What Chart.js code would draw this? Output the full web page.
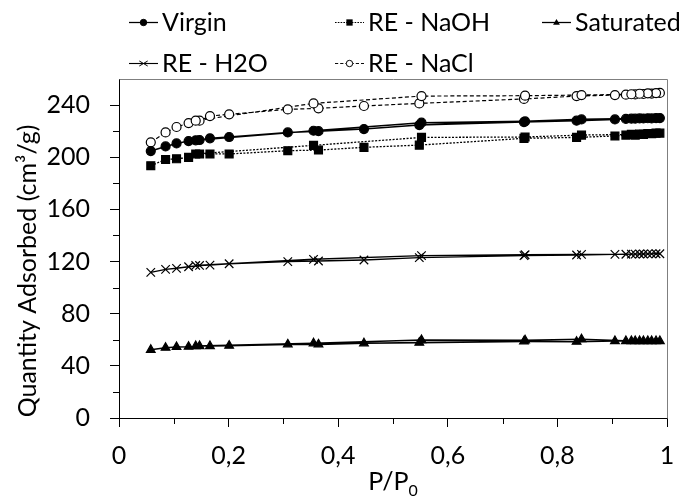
<!DOCTYPE html>
<html><head><meta charset="utf-8">
<script src="https://cdn.jsdelivr.net/npm/chart.js@4/dist/chart.umd.min.js"></script>
<style>html,body{margin:0;padding:0;background:#fff;}#wrap{position:relative;width:689px;height:499px;}</style>
</head><body><div id="wrap"><canvas id="c" width="689" height="499" style="width:689px;height:499px"></canvas></div>
<script>
// ---- data ----
const seriesNames = ['Virgin', 'RE - NaOH', 'Saturated', 'RE - H2O', 'RE - NaCl'];
const pAds = [0.058, 0.085, 0.105, 0.127, 0.147, 0.166, 0.201, 0.308, 0.364, 0.447, 0.548, 0.739, 0.835, 0.905, 0.925, 0.942, 0.957, 0.972, 0.987];
const pDes = [0.980, 0.965, 0.950, 0.935, 0.844, 0.741, 0.552, 0.355, 0.140];

const virginAds = [204.7, 208.3, 210.6, 212.4, 213.2, 214.5, 215.5, 219.0, 220.0, 221.6, 224.7, 227.0, 228.0, 229.0, 229.4, 229.6, 229.7, 229.8, 230.0];
const virginDes = [230.0, 229.9, 229.8, 229.6, 229.0, 227.5, 226.5, 220.3, 213.0];

const naohAds = [193.5, 198.3, 198.8, 199.9, 202.5, 202.5, 202.5, 205.0, 205.5, 207.6, 209.3, 214.5, 215.2, 216.3, 217.0, 217.0, 217.5, 218.0, 218.5];
const naohDes = [218.5, 218.2, 217.8, 217.5, 217.0, 215.5, 215.2, 209.1, 202.5];

const satAds = [52.3, 53.9, 54.5, 54.7, 55.2, 55.2, 55.5, 56.5, 56.5, 57.3, 57.8, 58.8, 58.5, 59.0, 59.0, 59.0, 59.0, 59.0, 59.0];
const satDes = [59.0, 59.0, 59.0, 59.0, 60.4, 59.6, 59.8, 57.3, 55.2];

const h2oAds = [111.7, 114.0, 114.8, 116.0, 117.0, 117.3, 118.3, 119.9, 120.4, 121.2, 123.0, 124.5, 125.0, 125.5, 125.6, 125.7, 125.8, 125.9, 126.0];
const h2oDes = [126.0, 125.9, 125.8, 125.7, 125.5, 125.2, 124.5, 121.7, 117.0];

const naclAds = [211.4, 219.0, 223.2, 226.2, 228.0, 231.6, 232.9, 236.7, 237.5, 239.3, 241.3, 244.7, 246.9, 247.7, 248.0, 248.2, 248.5, 248.8, 249.3];
const naclDes = [249.2, 249.0, 248.7, 248.3, 247.7, 247.2, 246.9, 241.3, 228.0];

const xTickValues = [0, 0.2, 0.4, 0.6, 0.8, 1];
const xTickLabels = ['0', '0,2', '0,4', '0,6', '0,8', '1'];
const yTickLabels = ['0', '40', '80', '120', '160', '200', '240'];

function isotherm(ads, des) {
  return pAds.map((p, i) => ({x: p, y: ads[i]})).concat(pDes.map((p, i) => ({x: p, y: des[i]})));
}

const FONT = 'Lato, "Open Sans", sans-serif';
Chart.defaults.font.family = FONT;

const styles = [
  {pointStyle: 'circle', radius: 4.5, fill: '#000', dash: [], lw: 1.6, lr: 3.2},
  {pointStyle: 'rect', radius: 5.6, fill: '#000', dash: [2, 1.5], lw: 1.3, lr: 4.2},
  {pointStyle: 'triangle', radius: 5, fill: '#000', dash: [], lw: 1.6, lr: 3.6},
  {pointStyle: 'crossRot', radius: 6, fill: '#000', dash: [], lw: 1.4, lr: 4.2},
  {pointStyle: 'circle', radius: 4.5, fill: '#fff', dash: [4, 2.5], lw: 1.2, lr: 3.2}
];
const dataSets = [
  isotherm(virginAds, virginDes),
  isotherm(naohAds, naohDes),
  isotherm(satAds, satDes),
  isotherm(h2oAds, h2oDes),
  isotherm(naclAds, naclDes)
];

const datasets = seriesNames.map((name, i) => ({
  label: name,
  data: dataSets[i],
  showLine: true,
  borderColor: '#000',
  borderWidth: styles[i].lw,
  borderDash: styles[i].dash,
  pointStyle: styles[i].pointStyle,
  pointRadius: styles[i].radius,
  pointBackgroundColor: styles[i].fill,
  pointBorderColor: '#000',
  pointBorderWidth: 1.2,
  tension: 0
}));

function drawMarker(ctx, style, x, y, r, fill) {
  ctx.save();
  ctx.fillStyle = fill; ctx.strokeStyle = '#000'; ctx.lineWidth = 1; ctx.setLineDash([]);
  ctx.beginPath();
  if (style === 'circle') { ctx.arc(x, y, r, 0, Math.PI * 2); ctx.fill(); ctx.stroke(); }
  else if (style === 'rect') { ctx.rect(x - r * 0.75, y - r * 0.75, r * 1.5, r * 1.5); ctx.fill(); }
  else if (style === 'triangle') { ctx.moveTo(x, y - r); ctx.lineTo(x + r * 0.95, y + r * 0.6); ctx.lineTo(x - r * 0.95, y + r * 0.6); ctx.closePath(); ctx.fill(); }
  else if (style === 'crossRot') { ctx.moveTo(x - r, y - r * 0.6); ctx.lineTo(x + r, y + r * 0.6); ctx.moveTo(x - r, y + r * 0.6); ctx.lineTo(x + r, y - r * 0.6); ctx.stroke(); }
  ctx.restore();
}

const decor = {
  id: 'decor',
  afterDraw(chart) {
    const ctx = chart.ctx, a = chart.chartArea;
    const xs = chart.scales.x, ys = chart.scales.y;
    ctx.save();
    // top / right plot border
    ctx.strokeStyle = '#7f7f7f'; ctx.lineWidth = 1;
    ctx.beginPath();
    ctx.moveTo(Math.round(a.left) + 0.5, Math.round(a.top) + 0.5);
    ctx.lineTo(Math.round(a.right) + 0.5, Math.round(a.top) + 0.5);
    ctx.lineTo(Math.round(a.right) + 0.5, Math.round(a.bottom) + 0.5);
    ctx.stroke();
    // minor ticks
    ctx.strokeStyle = '#000';
    ctx.beginPath();
    for (let v = 20; v < 260; v += 40) {
      const py = Math.round(ys.getPixelForValue(v)) + 0.5;
      ctx.moveTo(a.left - 6, py); ctx.lineTo(a.left, py);
    }
    for (let k = 1; k < 10; k += 2) {
      const px = Math.round(xs.getPixelForValue(k / 10)) + 0.5;
      ctx.moveTo(px, a.bottom); ctx.lineTo(px, a.bottom + 6);
    }
    ctx.stroke();
    // axis titles
    ctx.fillStyle = '#000';
    ctx.font = '25px ' + FONT;
    ctx.textAlign = 'center'; ctx.textBaseline = 'middle';
    ctx.save();
    ctx.translate(28, 271); ctx.rotate(-Math.PI / 2);
    ctx.fillText('Quantity Adsorbed (cm\u00B3/g)', 0, 0);
    ctx.restore();
    // P/P0
    const cx = (a.left + a.right) / 2;
    ctx.textAlign = 'left'; ctx.textBaseline = 'alphabetic';
    const main = 'P/P';
    ctx.font = '25px ' + FONT;
    const w1 = ctx.measureText(main).width;
    ctx.font = '16px ' + FONT;
    const w2 = ctx.measureText('0').width;
    const x0 = cx - (w1 + w2) / 2;
    ctx.font = '25px ' + FONT;
    ctx.fillText(main, x0, 490);
    ctx.font = '16px ' + FONT;
    ctx.fillText('0', x0 + w1, 496);
    // legend
    const cols = [129, 335, 542], rows = [22, 63];
    chart.data.datasets.forEach((ds, i) => {
      const col = cols[i % 3], row = rows[Math.floor(i / 3)];
      const st = styles[i];
      ctx.save();
      ctx.strokeStyle = '#000'; ctx.lineWidth = st.lw * 0.8;
      ctx.setLineDash(st.dash.map(d => d * 0.8));
      ctx.beginPath(); ctx.moveTo(col, row + 0.5); ctx.lineTo(col + 29, row + 0.5); ctx.stroke();
      ctx.restore();
      drawMarker(ctx, st.pointStyle, col + 14.5, row + 0.5, st.lr, st.fill);
      ctx.fillStyle = '#000';
      ctx.font = '25px ' + FONT;
      ctx.textAlign = 'left'; ctx.textBaseline = 'middle';
      ctx.fillText(ds.label, col + 33, row + 1);
    });
    ctx.restore();
  }
};

new Chart(document.getElementById('c'), {
  type: 'scatter',
  data: {datasets},
  plugins: [decor],
  options: {
    responsive: false,
    animation: false,
    devicePixelRatio: 1,
    layout: {padding: {top: 79, right: 22, left: 0, bottom: 0}},
    plugins: {legend: {display: false}, tooltip: {enabled: false}},
    scales: {
      x: {
        type: 'linear', min: 0, max: 1,
        afterFit(s) { s.height = 81; },
        afterBuildTicks(s) { s.ticks = xTickValues.map(v => ({value: v})); },
        ticks: {
          includeBounds: false, autoSkip: false, maxRotation: 0,
          color: '#000', font: {size: 25}, padding: 14,
          callback: (v) => { const i = xTickValues.findIndex(t => Math.abs(t - v) < 1e-6); return i >= 0 ? xTickLabels[i] : ''; }
        },
        grid: {drawOnChartArea: false, drawTicks: true, tickLength: 9, color: '#000'},
        border: {display: true, color: '#000', width: 1}
      },
      y: {
        type: 'linear', min: 0, max: 260,
        afterFit(s) { s.width = 119; },
        afterBuildTicks(s) { s.ticks = yTickLabels.map(v => ({value: Number(v)})); },
        ticks: {
          includeBounds: false, autoSkip: false,
          color: '#000', font: {size: 25}, padding: 20,
          callback: (v) => String(v)
        },
        grid: {drawOnChartArea: false, drawTicks: true, tickLength: 9, color: '#000'},
        border: {display: true, color: '#000', width: 1}
      }
    }
  }
});
</script></body></html>
